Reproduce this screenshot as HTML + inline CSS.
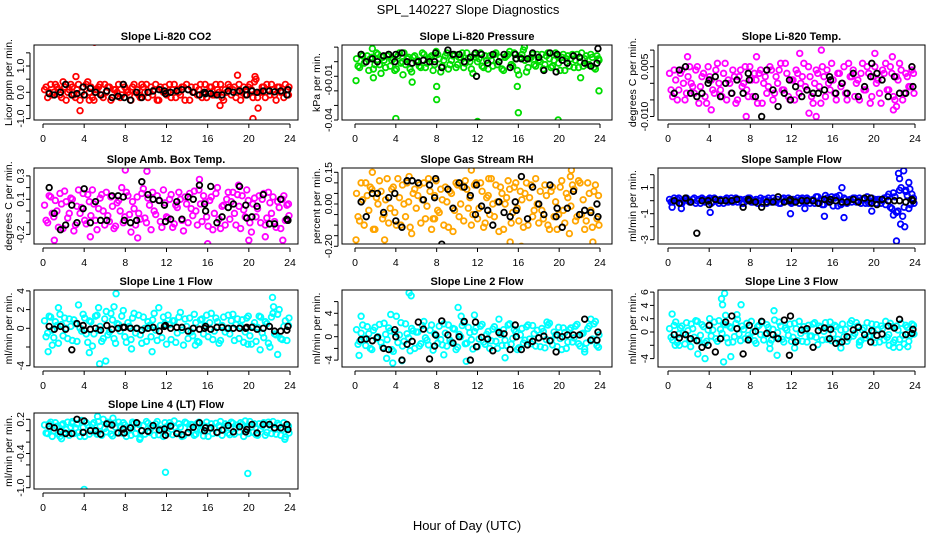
<!DOCTYPE html>
<html><head><meta charset="utf-8"><style>
html,body{margin:0;padding:0;background:#fff;}
svg{display:block;font-family:"Liberation Sans",Arial,sans-serif;}
</style></head><body>
<svg id="chart" width="936" height="540" viewBox="0 0 936 540">
<text x="468" y="14" text-anchor="middle" font-size="13">SPL_140227  Slope Diagnostics</text>
<text x="467" y="530" text-anchor="middle" font-size="13">Hour of Day (UTC)</text>
</svg>
<script>
const hours=[0.15,0.45,0.75,1.05,1.35,1.65,1.95,2.25,2.55,2.85,
3.15,3.45,3.75,4.05,4.35,4.65,4.95,5.25,5.55,5.85,
6.15,6.45,6.75,7.05,7.35,7.65,7.95,8.25,8.55,8.85,
9.15,9.45,9.75,10.05,10.35,10.65,10.95,11.25,11.55,11.85,
12.15,12.45,12.75,13.05,13.35,13.65,13.95,14.25,14.55,14.85,
15.15,15.45,15.75,16.05,16.35,16.65,16.95,17.25,17.55,17.85,
18.15,18.45,18.75,19.05,19.35,19.65,19.95,20.25,20.55,20.85,
21.15,21.45,21.75,22.05,22.35,22.65,22.95,23.25,23.55,23.85];
const hoursB=[0.3,0.6,0.9,1.2,1.5,1.8,2.1,2.4,2.7,3.0,
3.3,3.6,3.9,4.2,4.5,4.8,5.1,5.4,5.7,6.0,
6.3,6.6,6.9,7.2,7.5,7.8,8.1,8.4,8.7,9.0,
9.3,9.6,9.9,10.2,10.5,10.8,11.1,11.4,11.7,12.0,
12.3,12.6,12.9,13.2,13.5,13.8,14.1,14.4,14.7,15.0,
15.3,15.6,15.9,16.2,16.5,16.8,17.1,17.4,17.7,18.0,
18.3,18.6,18.9,19.2,19.5,19.8,20.1,20.4,20.7,21.0,
21.3,21.6,21.9,22.2,22.5,22.8,23.1,23.4,23.7,23.9];
const blackHours=[0.6,1.1,1.7,2.2,2.8,3.3,3.9,4.0,4.6,5.1,5.6,6.2,6.7,7.3,7.8,7.9,8.5,9.1,9.6,10.2,10.7,11.3,11.8,11.9,12.4,13.0,13.5,14.1,14.6,15.2,15.7,15.8,16.3,16.9,17.4,18.0,18.5,19.1,19.7,19.8,20.3,20.8,21.4,22.0,22.5,23.1,23.7,23.8];
const xTicks=[0,4,8,12,16,20,24];

const co2Vals=[0.1,-0.2,0.3,0.0,0.2,-0.1,0.4,-0.3,0.1,0.2,-0.2,0.3,0.0,-0.1,0.4,0.2,-0.3,0.1,0.3,-0.2,0.0,0.2,-0.2,0.1,0.3,-0.1,0.2,0.0,-0.3,0.3,0.1,-0.2,0.2,0.3,0.0,-0.1,0.3,-0.3,0.1,0.2,0.0,-0.2,0.3,0.1,-0.1,0.2,0.3,-0.3,0.0,0.2,0.1,-0.2,0.3,0.0,0.2,-0.1,0.1,0.3,-0.3,0.0,0.2,0.1,-0.2,0.3,0.0,-0.1,0.2,0.1,0.4,-0.2,0.0,0.2,0.3,-0.1,0.1,-0.3,0.2,0.0,0.3,-0.1];
const co2ValsB=[0.2,0.0,-0.1,0.3,0.1,-0.2,0.2,0.0,0.3,-0.1,0.1,-0.3,0.2,0.3,0.0,-0.2,0.1,0.2,-0.1,0.3,0.2,-0.3,0.1,0.0,-0.2,0.3,0.1,-0.1,0.2,0.0,-0.1,0.3,0.0,-0.2,0.2,0.1,-0.3,0.2,0.0,-0.1,0.3,0.1,-0.2,0.0,0.2,-0.3,0.1,0.2,0.0,-0.1,0.3,0.0,-0.2,0.2,-0.1,0.3,0.0,-0.2,0.1,0.3,-0.1,0.2,0.0,-0.3,0.2,0.1,0.3,-0.2,0.5,0.0,0.2,-0.2,0.1,0.3,-0.1,0.2,0.0,-0.2,0.1,0.2];
const co2OutH=[3.2,3.6,5.0,18.9,20.4,20.6,17.2,20.9,4.5];
const co2OutV=[0.6,-0.7,1.9,0.65,-1.0,0.6,-0.5,-0.6,-0.3];
const co2Black=[-0.05,-0.1,0.0,0.3,-0.1,-0.05,0.2,-0.1,0.15,0.0,-0.1,0.05,-0.2,-0.15,0.3,-0.2,-0.3,0.0,-0.2,0.0,0.05,0.1,0.05,-0.05,0.0,0.05,0.1,0.1,0.0,-0.1,0.0,-0.05,-0.05,-0.1,-0.1,0.05,0.0,0.05,0.1,-0.1,0.05,0.0,0.05,0.05,0.02,0.05,-0.1,0.1];

const presVals=[0.002,-0.004,0.004,0.0,-0.006,0.003,-0.002,0.005,-0.008,0.001,0.004,-0.003,0.002,-0.005,0.006,0.0,-0.002,0.003,-0.007,0.004,0.001,-0.004,0.005,-0.001,0.003,-0.006,0.007,0.002,-0.003,0.004,-0.005,0.001,0.005,-0.002,0.003,-0.004,0.006,0.0,-0.008,0.003,0.002,-0.003,0.004,-0.005,0.001,0.005,-0.002,0.003,-0.006,0.004,0.007,-0.003,0.002,-0.009,0.005,0.001,-0.004,0.003,-0.002,0.005,0.0,-0.005,0.004,0.002,-0.003,0.006,-0.001,0.003,-0.006,0.004,0.002,-0.004,0.005,0.0,-0.003,0.004,-0.002,0.003,-0.005,0.002];
const presValsB=[-0.003,0.005,-0.001,0.004,0.002,-0.005,0.006,-0.002,0.003,-0.004,0.005,0.001,-0.006,0.004,-0.001,0.006,0.002,-0.005,0.003,0.0,-0.003,0.006,-0.004,0.002,0.004,-0.002,0.005,-0.007,0.001,0.006,-0.002,0.004,-0.004,0.003,0.006,-0.001,0.002,-0.005,0.005,0.0,0.006,-0.004,0.001,0.004,-0.003,0.006,0.0,-0.005,0.003,0.005,-0.002,0.006,-0.006,0.003,0.008,-0.007,0.002,0.005,-0.003,0.001,0.005,-0.002,0.006,-0.004,0.001,0.004,-0.006,0.005,0.002,-0.003,0.005,0.001,-0.004,0.006,0.002,-0.002,0.005,-0.004,0.004,0.001];
const presOutH=[0.1,1.7,1.8,4.0,4.7,5.6,8.0,8.0,12.0,15.9,16.0,16.6,19.9,22.1,23.9];
const presOutV=[-0.013,0.009,-0.011,-0.039,-0.009,-0.014,-0.017,-0.026,-0.041,-0.017,-0.035,0.010,-0.040,-0.011,-0.020];
const presBlack=[0.005,0.0,0.002,0.0,0.004,0.005,0.0,0.005,0.006,0.0,-0.001,0.0,0.001,0.0,0.0,0.006,-0.004,0.008,0.005,0.005,0.0,0.003,0.006,-0.010,0.005,-0.001,0.005,0.0,0.005,-0.004,0.005,0.002,0.002,0.002,0.006,0.003,-0.006,0.006,-0.007,0.005,0.001,-0.001,0.004,0.003,-0.001,-0.003,-0.001,0.009];

const tempVals=[0.003,-0.004,0.001,-0.002,0.004,-0.005,0.002,0.0,-0.003,0.005,-0.001,0.003,-0.006,0.002,-0.002,0.004,0.0,-0.004,0.006,0.001,-0.003,0.002,-0.005,0.004,0.0,-0.002,0.005,-0.004,0.001,0.003,-0.006,0.002,-0.001,0.004,-0.003,0.0,0.006,-0.002,0.003,-0.005,0.001,0.004,-0.003,0.002,-0.001,0.005,-0.004,0.0,0.003,-0.006,0.002,0.004,-0.002,0.001,-0.005,0.003,0.0,-0.003,0.006,0.002,-0.004,0.001,0.003,-0.002,0.005,-0.006,0.002,0.0,-0.003,0.004,0.006,-0.002,0.003,-0.005,0.001,0.004,-0.003,0.002,-0.001,0.003];
const tempValsB=[-0.002,0.004,-0.005,0.003,0.0,-0.003,0.005,-0.001,0.004,-0.006,0.002,-0.004,0.005,0.001,-0.003,0.006,-0.002,0.003,-0.005,0.0,0.004,-0.006,0.002,-0.001,0.005,-0.004,0.001,0.003,-0.006,0.004,0.0,-0.003,0.005,-0.005,0.002,0.004,-0.002,0.006,-0.004,0.001,-0.005,0.003,0.0,0.006,-0.002,0.002,-0.006,0.004,-0.001,0.005,-0.004,0.0,0.006,-0.003,0.003,-0.001,0.005,-0.005,0.002,0.004,0.0,-0.005,0.006,-0.002,0.003,-0.004,0.005,0.001,-0.006,0.003,-0.002,0.005,-0.004,0.002,0.006,-0.005,0.003,-0.001,0.004,-0.003];
const tempOutH=[1.9,4.2,7.6,8.6,12.8,13.7,14.4,14.9,20.1,21.8,21.9,22.2];
const tempOutV=[0.008,-0.008,-0.010,0.008,0.009,-0.009,-0.010,0.010,0.009,0.008,-0.008,-0.007];
const tempBlack=[-0.003,0.004,0.005,-0.003,-0.004,-0.003,0.0,0.001,0.002,-0.004,0.0,-0.003,0.001,-0.003,0.003,0.001,-0.004,-0.010,0.004,-0.002,-0.007,-0.003,0.001,-0.005,-0.001,-0.004,-0.002,-0.003,-0.003,-0.002,0.002,0.001,-0.003,0.0,-0.003,0.003,-0.004,-0.001,0.002,0.006,0.003,0.001,-0.004,0.002,-0.003,-0.003,0.005,-0.001];

const ambVals=[0.05,-0.1,0.12,-0.05,0.0,0.15,-0.15,0.08,-0.02,0.1,-0.12,0.18,0.03,-0.08,0.14,-0.04,0.06,-0.16,0.11,0.0,0.16,-0.09,0.04,-0.13,0.09,0.2,-0.05,0.13,-0.18,0.02,0.12,-0.07,0.19,-0.1,0.05,0.16,-0.03,0.09,-0.14,0.07,-0.06,0.14,-0.11,0.03,0.1,-0.17,0.06,0.15,-0.04,0.0,0.18,-0.09,0.08,-0.13,0.12,-0.02,0.2,-0.15,0.05,0.1,-0.07,0.16,-0.12,0.04,0.13,-0.05,0.09,-0.18,0.11,0.02,-0.1,0.15,-0.06,0.07,0.12,-0.14,0.03,0.1,-0.08,0.06];
const ambValsB=[-0.08,0.13,-0.02,0.09,-0.14,0.06,0.17,-0.06,0.11,-0.17,0.04,-0.02,0.15,-0.11,0.08,0.18,-0.08,0.02,0.14,-0.12,-0.04,0.12,-0.15,0.07,0.0,-0.1,0.16,-0.03,0.08,-0.12,-0.02,0.15,-0.06,0.11,-0.16,0.0,0.13,-0.09,0.18,-0.05,0.1,-0.14,0.05,0.16,-0.08,0.12,-0.1,0.02,0.17,-0.12,0.06,0.13,-0.05,0.09,-0.16,0.15,-0.07,0.04,-0.12,0.16,0.08,-0.02,0.14,-0.15,0.01,0.18,-0.1,0.06,-0.05,0.13,0.1,-0.12,0.16,-0.02,-0.09,0.08,-0.15,0.13,0.05,-0.04];
const ambOutH=[1.1,4.6,8.0,9.2,10.1,15.2,16.0,19.0,20.0,21.6,23.3];
const ambOutV=[-0.25,-0.22,0.35,-0.23,0.34,0.27,-0.28,0.22,-0.25,-0.22,-0.25];
const ambBlack=[0.2,-0.02,-0.16,-0.12,0.05,-0.1,0.02,0.19,-0.1,0.08,-0.08,-0.08,0.13,0.13,0.12,-0.08,-0.1,-0.08,0.25,0.14,0.1,0.09,0.05,-0.09,-0.07,0.08,-0.07,0.12,0.1,0.22,0.06,0.0,0.21,-0.1,-0.05,0.03,0.06,0.21,0.05,-0.06,-0.05,0.04,0.14,-0.11,-0.11,0.1,-0.07,-0.08];

const rhVals=[0.05,-0.08,0.02,0.1,-0.03,0.07,-0.12,0.0,0.06,-0.05,0.12,-0.02,0.08,-0.1,0.03,0.09,-0.06,0.01,-0.14,0.07,0.04,-0.09,0.1,-0.01,0.06,-0.07,0.11,-0.04,0.02,0.08,-0.11,0.05,-0.03,0.09,0.0,-0.08,0.07,0.03,-0.05,0.1,-0.02,0.06,-0.09,0.04,0.12,-0.06,0.01,0.08,-0.12,0.03,0.07,-0.04,0.1,-0.08,0.02,0.05,-0.1,0.09,-0.03,0.0,0.06,-0.07,0.04,-0.12,0.08,0.01,-0.05,0.11,-0.09,0.03,-0.01,0.07,-0.06,0.1,0.02,-0.08,0.05,-0.11,0.09,0.04];
const rhValsB=[-0.06,0.1,-0.1,0.04,0.08,-0.12,0.03,0.11,-0.07,0.02,-0.09,0.07,-0.04,0.12,-0.1,0.0,0.1,-0.11,0.05,-0.02,0.09,0.02,-0.07,0.12,-0.12,0.04,-0.03,0.07,-0.1,0.01,0.06,-0.13,0.1,-0.06,0.08,0.11,-0.02,-0.1,0.09,-0.07,0.1,-0.11,0.03,-0.05,0.0,0.09,-0.13,0.05,0.0,0.11,-0.09,0.08,-0.02,0.06,-0.11,0.1,0.03,-0.06,0.12,-0.09,-0.03,0.09,-0.1,0.06,-0.06,-0.12,0.08,-0.03,0.05,-0.14,0.09,-0.08,0.11,-0.05,-0.12,0.1,-0.03,0.06,-0.07,-0.1];
const rhOutH=[0.1,1.7,2.9,5.3,7.8,11.4,12.0,13.1,15.2,16.3,21.1,21.2,23.3];
const rhOutV=[-0.17,0.15,-0.17,0.13,-0.07,0.16,-0.21,0.12,-0.18,-0.2,0.13,0.16,-0.18];
const rhBlack=[0.01,-0.06,0.05,0.05,-0.04,0.03,0.05,-0.08,-0.11,0.11,0.11,0.1,0.02,0.09,0.03,0.12,-0.19,0.07,-0.02,0.1,0.08,0.04,-0.05,0.09,-0.01,-0.03,-0.1,0.01,-0.04,-0.06,0.01,-0.03,0.13,-0.07,0.08,0.0,-0.05,0.09,-0.06,-0.02,-0.11,-0.02,0.06,-0.05,-0.03,-0.04,0.0,-0.06];

const sampVals=[0.1,-0.1,0.0,0.2,-0.2,0.1,0.0,-0.1,0.2,0.0,-0.2,0.1,0.0,0.2,-0.1,0.1,-0.2,0.0,0.1,-0.1,0.2,0.0,-0.1,0.1,-0.2,0.0,0.2,-0.1,0.1,0.0,-0.2,0.1,0.2,-0.1,0.0,0.1,-0.2,0.2,0.0,-0.1,0.1,0.0,-0.2,0.2,-0.1,0.1,0.0,-0.2,0.3,0.1,-0.3,0.2,0.0,-0.4,0.3,0.4,-0.2,0.1,0.0,-0.1,0.2,0.0,-0.2,0.1,0.3,-0.1,0.0,-0.2,0.1,0.0,-0.3,0.5,-0.6,0.3,-0.8,1.0,-0.5,0.4,-0.3,0.2];
const sampValsB=[-0.1,0.2,0.1,-0.2,0.0,0.2,-0.1,0.1,-0.2,0.1,0.2,-0.1,0.1,-0.2,0.2,0.0,0.1,-0.2,0.2,0.0,-0.1,0.2,0.1,-0.2,0.1,0.2,-0.1,0.0,-0.2,0.2,0.1,-0.2,0.0,0.2,-0.1,-0.2,0.1,0.0,0.2,-0.2,-0.1,0.2,0.1,-0.1,0.2,-0.2,0.1,0.3,-0.2,-0.3,0.4,-0.1,0.3,0.2,-0.4,-0.3,0.2,-0.2,0.1,0.2,-0.1,0.2,0.1,-0.2,-0.2,0.2,0.1,0.1,-0.2,0.2,0.3,-0.5,0.6,-0.9,0.8,-1.2,0.7,-0.6,0.5,-0.2];
const sampOutH=[0.4,1.3,4.1,11.9,13.3,15.2,16.9,17.1,19.8,21.9,22.2,22.4,22.5,22.6,22.9,23.0,23.4,23.5,23.1];
const sampOutV=[-0.5,-0.6,-0.9,-1.0,-0.6,-1.2,1.0,-1.3,-0.8,-1.1,-3.1,2.1,1.7,-1.8,2.3,-2.0,1.4,0.9,0.8];
const sampBlack=[0.0,-0.2,0.2,-0.1,-2.5,0.0,0.0,-0.3,0.1,0.0,0.0,0.0,0.1,-0.5,0.1,0.0,-0.1,-0.5,-0.1,-0.1,0.3,-0.1,0.0,0.1,-0.1,0.0,0.0,0.0,-0.2,0.1,-0.1,0.1,0.0,-0.1,-0.1,0.1,-0.1,0.2,0.2,-0.2,-0.3,0.1,0.0,0.0,0.0,-0.1,0.1,0.0];

const l1Vals=[0.8,-0.5,1.2,-1.0,0.3,1.5,-0.8,0.0,1.0,-1.3,0.5,2.5,-0.3,1.1,-1.5,0.7,-0.6,1.4,0.2,-1.1,1.8,-0.4,0.9,-1.6,0.4,1.3,-0.9,0.6,-1.2,1.6,0.0,-0.7,1.2,-1.4,0.3,0.9,-0.2,2.2,-1.0,0.5,1.4,-1.2,0.8,-0.5,1.7,-1.8,0.2,1.1,-0.8,0.6,-1.5,1.0,0.3,-0.9,1.6,-0.3,0.7,-1.3,1.2,0.0,-0.6,1.5,0.4,-1.1,0.9,-0.4,1.3,-1.7,0.6,0.1,1.2,-1.0,0.5,-2.0,1.6,-0.7,2.0,-1.2,0.8,0.3];
const l1ValsB=[-0.9,1.3,-0.2,0.7,-1.6,0.4,1.1,-1.1,0.2,0.9,-1.4,0.0,1.5,-0.6,0.8,-1.9,1.3,-0.2,-1.4,1.0,-0.7,1.6,-1.1,0.5,-0.3,1.9,-1.5,0.2,1.1,-0.5,1.4,-1.6,0.0,0.7,-0.9,1.6,-1.3,0.3,1.2,-1.7,0.4,0.8,-1.5,1.2,-0.2,1.0,-1.1,-0.4,1.5,-1.4,0.9,-0.6,1.4,0.6,-1.2,1.1,-1.6,0.3,-0.4,1.4,0.8,-1.3,1.0,0.2,-1.5,1.1,-0.8,0.2,-1.4,1.3,-0.5,0.7,-1.6,1.2,-0.6,1.5,-1.1,0.2,-1.3,1.1];
const l1OutH=[0.5,0.9,1.5,4.5,5.4,5.5,6.1,6.9,7.1,8.6,10.6,14.8,19.9,21.1,22.3,22.4,22.8];
const l1OutV=[-2.5,-1.8,2.2,-2.6,2.2,-3.8,-3.5,2.3,3.7,-2.2,-2.5,-1.8,-1.7,-2.3,3.3,2.3,-2.8];
const l1Black=[0.2,-0.1,0.2,-0.1,-2.3,0.5,0.3,-0.2,-0.1,0.0,-0.2,0.3,-0.1,0.0,0.1,0.1,0.0,0.0,-0.2,0.0,0.1,-0.3,0.2,0.3,0.0,0.1,0.1,-0.3,0.0,-0.1,0.0,0.2,-0.1,0.1,0.1,0.0,0.0,0.0,0.0,0.1,0.1,-0.1,0.0,0.2,-0.3,-0.3,-0.2,0.2];

const l2Vals=[1.2,-0.8,2.0,-1.5,0.5,-2.2,1.6,0.0,-1.0,2.3,-0.5,1.0,-2.5,3.5,0.3,-1.6,2.2,-0.2,1.4,-2.0,0.8,-1.2,2.6,-0.6,1.1,-2.3,0.2,1.8,-1.4,0.6,2.0,-0.9,1.3,-1.8,0.0,2.4,-1.1,0.7,-2.1,1.5,-0.4,2.1,-1.3,0.9,-0.7,1.7,-2.0,0.4,1.2,-1.5,2.2,-0.3,0.8,-1.9,1.4,-0.6,2.0,-1.2,0.5,1.1,-1.7,0.9,-0.5,2.3,-1.4,0.3,1.6,-2.2,0.7,-0.9,1.5,-0.2,2.1,-1.6,0.6,-1.1,1.8,-0.4,2.6,-1.8];
const l2ValsB=[-1.3,0.6,-0.4,1.7,-2.0,1.1,-0.3,2.1,-1.8,0.4,1.5,-2.2,0.7,-1.0,2.4,-0.8,0.5,-2.4,1.0,0.8,-1.6,1.9,-0.2,-1.4,2.0,0.5,-1.1,-0.5,2.2,-1.6,-0.6,1.4,-2.2,0.4,1.9,-1.2,1.6,-0.5,0.9,-1.7,1.8,-0.9,0.4,-2.0,1.3,-0.8,0.9,-1.5,-0.6,2.0,-1.3,1.2,-2.2,0.3,-1.1,1.7,-0.4,1.9,-1.6,-0.2,1.4,-1.9,2.0,-0.6,0.8,-1.7,-0.3,1.5,-2.0,1.2,-0.9,1.8,-1.2,0.5,-2.1,1.4,-0.7,2.2,-1.5,0.3];
const l2OutH=[0.4,0.6,3.1,3.5,3.7,4.6,5.3,5.5,8.7,10.1,10.4,10.9,11.7,14.1,14.7,18.8,22.5,23.1];
const l2OutV=[-3.2,3.5,-3.7,3.8,-4.5,-4.1,7.5,7.0,-3.1,5.0,3.5,-4.2,3.7,3.0,-3.6,2.5,-2.6,3.0];
const l2Black=[-0.5,-0.4,-0.7,-0.1,-2.0,-2.2,1.2,0.0,-4.0,-1.3,-0.8,2.5,1.3,-3.8,-1.6,0.3,2.7,0.3,-1.1,0.0,2.6,-4.0,2.5,-1.7,-0.1,-0.4,-2.4,0.7,0.5,-2.2,2.0,0.0,-2.2,-1.4,-0.8,-0.2,0.1,-0.7,-2.6,0.3,0.0,0.3,0.3,0.3,3.0,-0.6,-0.6,0.8];

const l3Vals=[0.5,-1.2,1.5,-0.3,0.9,-1.8,0.2,1.2,-0.8,1.6,-0.5,0.8,-1.4,2.0,0.3,-1.0,1.7,-0.2,1.1,-1.6,0.6,-0.7,1.9,-1.3,0.4,1.3,-0.9,0.0,-1.7,1.0,1.5,-0.4,0.7,-1.2,1.8,-0.1,0.9,-1.5,0.3,1.2,-0.8,0.5,1.6,-1.4,0.2,1.0,-0.6,1.4,-1.9,0.7,0.1,-1.1,1.5,-0.3,0.8,-1.6,1.2,0.4,-0.9,1.7,-0.2,0.9,-1.3,0.6,1.4,-0.7,0.0,1.1,-1.5,0.5,1.6,-0.4,0.8,-1.2,0.3,1.3,-1.8,0.7,-0.5,1.0];
const l3ValsB=[-0.8,1.0,-1.6,0.6,-0.2,1.4,-1.1,0.5,1.7,-1.3,1.1,-1.7,0.3,-0.6,1.5,-1.4,0.4,1.2,-0.9,0.8,-1.5,1.3,-0.3,0.9,-1.0,-0.5,1.6,-1.3,0.8,-0.4,-1.2,1.1,-1.7,0.4,-0.8,1.5,-1.1,0.6,-0.5,-1.4,1.3,-1.3,-0.2,0.8,-1.5,-0.6,1.2,-0.8,0.9,-1.2,1.4,0.5,-1.3,1.0,-1.1,0.3,-0.7,-1.4,1.3,-0.6,1.4,-1.5,0.3,-0.9,-0.6,1.2,-1.6,0.4,0.9,-1.2,-0.8,1.3,-1.6,0.9,-1.1,-0.5,1.0,-1.4,1.2,-0.3];
const l3OutH=[0.4,0.7,1.1,2.2,2.9,3.6,5.2,5.3,5.4,5.5,5.6,6.1,6.7,7.1,9.9,10.3,10.6,12.3,16.8,18.6,21.5,21.9,22.5,23.3];
const l3OutV=[2.7,-2.0,-2.0,-2.2,-3.3,-4.0,5.0,4.1,-4.5,5.8,2.5,-3.7,2.6,4.1,-2.5,3.2,-3.5,-2.4,-2.4,-2.0,-2.0,-2.3,-2.3,-2.2];
const l3Black=[-0.4,-0.9,-0.4,-1.0,-1.3,-2.3,-2.0,1.0,-3.0,-1.0,1.5,2.4,0.5,-3.3,-1.2,1.0,0.1,1.6,-0.2,-0.4,-1.0,1.8,-3.5,2.4,-1.5,0.3,0.5,-2.3,0.2,0.6,-1.0,0.4,-1.7,-1.5,-0.7,0.3,0.7,-0.4,-1.5,0.2,-0.5,-0.3,0.9,0.6,1.9,-0.4,-0.2,0.4];

const l4Vals=[0.1,-0.05,0.15,0.0,0.08,-0.1,0.12,0.02,-0.08,0.16,0.05,-0.03,0.18,-0.1,0.1,0.0,0.14,-0.06,0.08,0.2,-0.02,0.12,-0.09,0.06,0.15,-0.04,0.1,0.02,-0.08,0.13,0.04,-0.12,0.09,0.16,-0.03,0.07,0.12,-0.07,0.02,0.14,-0.05,0.1,0.17,-0.02,0.06,-0.09,0.13,0.03,0.1,-0.06,0.15,0.0,0.08,-0.1,0.12,0.05,-0.04,0.16,0.02,0.09,-0.07,0.13,0.04,-0.02,0.11,0.17,-0.05,0.07,0.12,-0.08,0.03,0.14,-0.03,0.09,0.16,-0.06,0.1,0.02,-0.11,0.08];
const l4ValsB=[-0.04,0.12,-0.1,0.14,-0.06,0.1,-0.03,0.15,0.06,-0.05,0.12,-0.1,0.06,0.14,-0.06,0.11,-0.02,0.16,-0.08,0.04,0.15,-0.06,0.13,-0.03,0.08,0.14,-0.1,0.06,0.15,-0.05,0.11,0.0,-0.06,0.13,0.05,-0.08,0.16,0.03,-0.1,0.07,0.14,-0.07,0.05,0.12,-0.1,0.15,-0.04,0.11,-0.08,0.13,0.02,-0.09,0.15,0.05,-0.05,0.13,0.09,-0.08,0.12,-0.04,0.15,-0.06,0.1,0.14,-0.1,0.05,0.16,-0.03,-0.07,0.12,0.08,-0.08,0.15,-0.05,0.02,0.13,-0.08,0.14,0.06,-0.04];
const l4OutH=[1.8,2.8,4.0,5.3,6.8,9.4,11.9,19.9,23.5];
const l4OutV=[-0.14,0.13,-1.03,0.25,0.22,-0.15,-0.73,-0.75,-0.15];
const l4Black=[0.08,0.05,-0.02,-0.05,-0.05,0.2,-0.03,0.17,0.0,0.0,-0.06,0.12,0.1,-0.04,0.03,-0.04,0.05,0.14,0.0,-0.01,0.09,0.01,0.03,-0.08,0.08,-0.05,-0.07,-0.03,0.06,0.14,0.0,0.05,0.05,-0.03,0.01,0.09,-0.02,0.07,-0.02,0.02,0.11,-0.04,0.11,0.11,0.05,0.05,0.11,0.02];

const co2Ticks=[-1,-0.5,0,0.5,1,1.5], co2Labels=["-1.0","","0.0","","1.0",""];
const presTicks=[0.01,0,-0.01,-0.02,-0.03,-0.04], presLabels=["","","-0.01","-0","","-0.04"];
const tempTicks=[0.01,0.005,0,-0.005,-0.01], tempLabels=["","0.005","","","-0.010"];
const ambTicks=[0.3,0.2,0.1,0,-0.1,-0.2], ambLabels=["0.3","","0.1","","","-0.2"];
const rhTicks=[0.15,0.1,0.05,0,-0.05,-0.1,-0.15,-0.2], rhLabels=["0.15","","","0.00","","","","-0.20"];
const sampTicks=[2,1,0,-1,-2,-3], sampLabels=["","1","","-1","","-3"];
const l1Ticks=[4,2,0,-2,-4], l1Labels=["4","2","0","","-4"];
const l2Ticks=[6,4,2,0,-2,-4], l2Labels=["","4","","0","","-4"];
const l3Ticks=[6,4,2,0,-2,-4], l3Labels=["6","4","2","0","","-4"];
const l4Ticks=[0.2,0,-0.2,-0.4,-0.6,-0.8,-1.0], l4Labels=["0.2","","","-0.4","","","-1.0"];

const NS="http://www.w3.org/2000/svg";
const svg=document.getElementById('chart');
const colBox=[[34,298,43,290],[342,612,355,600],[658,925,668,915]];
const rowBox=[[45,120],[168,244],[290,367],[413,489]];
function mk(tag,attrs,parent){const e=document.createElementNS(NS,tag);for(const k in attrs)e.setAttribute(k,attrs[k]);(parent||svg).appendChild(e);return e;}
const panels=[
 {id:'co2',title:'Slope Li-820 CO2',ylab:'Licor ppm per min.',col:0,row:0,color:'#ff0000',v0:0,y0:92.3,v1:1,y1:66,vals:co2Vals,valsB:co2ValsB,oh:co2OutH,ov:co2OutV,blk:co2Black,ticks:co2Ticks,labels:co2Labels},
 {id:'pressure',title:'Slope Li-820 Pressure',ylab:'kPa per min.',col:1,row:0,color:'#00dd00',v0:0,y0:61.7,v1:-0.04,y1:120,vals:presVals,valsB:presValsB,oh:presOutH,ov:presOutV,blk:presBlack,ticks:presTicks,labels:presLabels},
 {id:'temp',title:'Slope Li-820 Temp.',ylab:'degrees C per min.',col:2,row:0,color:'#ff00ff',v0:0,y0:83.3,v1:0.005,y1:66.7,vals:tempVals,valsB:tempValsB,oh:tempOutH,ov:tempOutV,blk:tempBlack,ticks:tempTicks,labels:tempLabels},
 {id:'amb-box-temp',title:'Slope Amb. Box Temp.',ylab:'degrees C per min.',col:0,row:1,color:'#ff00ff',v0:0,y0:211,v1:0.1,y1:199.3,vals:ambVals,valsB:ambValsB,oh:ambOutH,ov:ambOutV,blk:ambBlack,ticks:ambTicks,labels:ambLabels},
 {id:'gas-rh',title:'Slope Gas Stream RH',ylab:'percent per min.',col:1,row:1,color:'#ffa500',v0:0,y0:204,v1:0.15,y1:172.3,vals:rhVals,valsB:rhValsB,oh:rhOutH,ov:rhOutV,blk:rhBlack,ticks:rhTicks,labels:rhLabels},
 {id:'sample-flow',title:'Slope Sample Flow',ylab:'ml/min per min.',col:2,row:1,color:'#0000ff',v0:0,y0:200.7,v1:1,y1:187.7,vals:sampVals,valsB:sampValsB,oh:sampOutH,ov:sampOutV,blk:sampBlack,ticks:sampTicks,labels:sampLabels},
 {id:'line1-flow',title:'Slope Line 1 Flow',ylab:'ml/min per min.',col:0,row:2,color:'#00ffff',v0:0,y0:328.3,v1:2,y1:309.6,vals:l1Vals,valsB:l1ValsB,oh:l1OutH,ov:l1OutV,blk:l1Black,ticks:l1Ticks,labels:l1Labels},
 {id:'line2-flow',title:'Slope Line 2 Flow',ylab:'ml/min per min.',col:1,row:2,color:'#00ffff',v0:0,y0:336.7,v1:2,y1:325,vals:l2Vals,valsB:l2ValsB,oh:l2OutH,ov:l2OutV,blk:l2Black,ticks:l2Ticks,labels:l2Labels},
 {id:'line3-flow',title:'Slope Line 3 Flow',ylab:'ml/min per min.',col:2,row:2,color:'#00ffff',v0:0,y0:332,v1:2,y1:318.7,vals:l3Vals,valsB:l3ValsB,oh:l3OutH,ov:l3OutV,blk:l3Black,ticks:l3Ticks,labels:l3Labels},
 {id:'line4-flow',title:'Slope Line 4 (LT) Flow',ylab:'ml/min per min.',col:0,row:3,color:'#00ffff',v0:0,y0:430.7,v1:0.2,y1:419.3,vals:l4Vals,valsB:l4ValsB,oh:l4OutH,ov:l4OutV,blk:l4Black,ticks:l4Ticks,labels:l4Labels}
];
panels.forEach(p=>{
  const [L,R,x0,x24]=colBox[p.col];const [T,B]=rowBox[p.row];
  const xs=h=>x0+(x24-x0)*h/24;
  const ys=v=>p.y0+(v-p.v0)*(p.y1-p.y0)/(p.v1-p.v0);
  const g=mk('g',{});
  
  
  const cp=mk('clipPath',{id:'clip-'+p.id},g);
  mk('rect',{x:L,y:T,width:R-L,height:B-T},cp);
  const t=mk('text',{x:(L+R)/2,y:T-5,'text-anchor':'middle','font-size':'11','font-weight':'bold'},g);
  t.textContent=p.title;
  
  
  const yl=mk('text',{transform:`translate(${L-22},${(T+B)/2}) rotate(-90)`,'text-anchor':'middle','font-size':'10.5'},g);
  yl.textContent=p.ylab;
  
  
  const marks=mk('g',{'clip-path':`url(#clip-${p.id})`,fill:'none','stroke-width':'1.8'},g);
  
  
  p.vals.forEach((v,i)=>{if(i<hours.length){const c=mk('circle',{cx:xs(hours[i]),cy:ys(v),r:2.8,stroke:p.color},marks);
    
    }});
  p.valsB.forEach((v,i)=>{if(i<hoursB.length){const c=mk('circle',{cx:xs(hoursB[i]),cy:ys(v),r:2.8,stroke:p.color},marks);
    
    }});
  p.ov.forEach((v,i)=>{const c=mk('circle',{cx:xs(p.oh[i]),cy:ys(v),r:2.8,stroke:p.color},marks);
    
    });
  p.blk.forEach((v,i)=>{if(i<blackHours.length){const c=mk('circle',{cx:xs(blackHours[i]),cy:ys(v),r:2.8,stroke:'#000'},marks);
    
    }});
  const box=mk('rect',{x:L,y:T,width:R-L,height:B-T,fill:'none',stroke:'#000','stroke-width':'1'},g);
  
  
  const xa=mk('g',{},g);
  
  
  mk('line',{x1:xs(0),x2:xs(24),y1:B+4,y2:B+4,stroke:'#000'},xa);
  xTicks.forEach(h=>{mk('line',{x1:xs(h),x2:xs(h),y1:B+4,y2:B+8,stroke:'#000'},xa);
    const tl=mk('text',{x:xs(h),y:B+22,'text-anchor':'middle','font-size':'10.5'},xa);tl.textContent=h;
    
    });
  const ya=mk('g',{},g);
  
  
  const yt=p.ticks.map(ys);
  mk('line',{x1:L-4,x2:L-4,y1:Math.min(...yt),y2:Math.max(...yt),stroke:'#000'},ya);
  p.ticks.forEach((v,i)=>{const y=ys(v);mk('line',{x1:L-8,x2:L-4,y1:y,y2:y,stroke:'#000'},ya);
    if(p.labels[i]){const tl=mk('text',{transform:`translate(${L-10},${y}) rotate(-90)`,'text-anchor':'middle','font-size':'10.5'},ya);tl.textContent=p.labels[i];
      
      }});
});
</script>
</body></html>
